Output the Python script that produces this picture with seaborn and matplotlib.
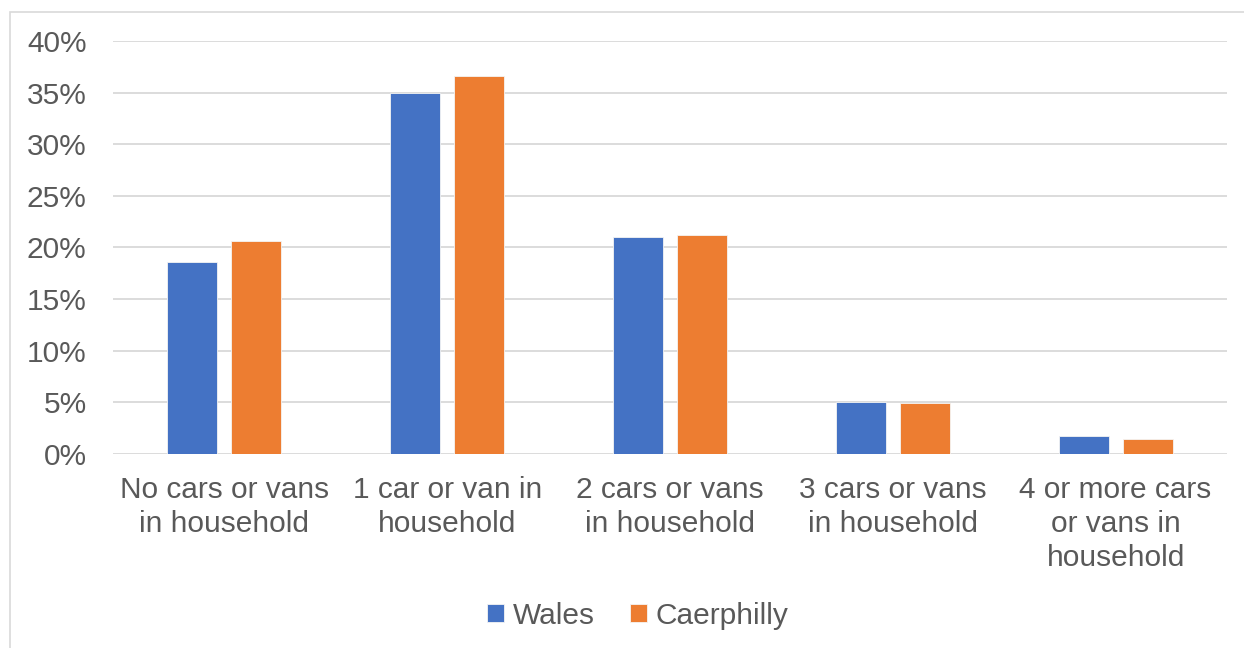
import numpy as np
import pandas as pd
import matplotlib
matplotlib.use("Agg")
import matplotlib.pyplot as plt
import seaborn as sns
from matplotlib.ticker import FuncFormatter
from matplotlib.patches import Rectangle

# Car / van availability by household
categories = [
    "No cars or vans\nin household",
    "1 car or van in\nhousehold",
    "2 cars or vans\nin household",
    "3 cars or vans\nin household",
    "4 or more cars\nor vans in\nhousehold",
]
wales = [18.6, 35.0, 21.0, 5.0, 1.7]
caerphilly = [20.6, 36.6, 21.2, 4.9, 1.5]
series = ["Wales", "Caerphilly"]
colours = ["#4472C4", "#ED7D31"]

df = pd.DataFrame({
    "Category": categories * 2,
    "Area": [series[0]] * len(categories) + [series[1]] * len(categories),
    "Value": wales + caerphilly,
})

sns.set_style("white")
plt.rcParams["font.family"] = ["Liberation Sans", "DejaVu Sans"]
text_grey = "#595959"
fsize = 21.5

fig = plt.figure(figsize=(12.44, 6.48), dpi=100)
ax = fig.add_axes([113 / 1244, 1 - 454 / 648, (1227 - 113) / 1244, (454 - 41) / 648])

sns.barplot(data=df, x="Category", y="Value", hue="Area", palette=colours,
            saturation=1, width=0.575, gap=0.22, ax=ax, legend=True,
            edgecolor="#f4f4f4", linewidth=0.6)

ax.set_ylim(0, 40)
ax.set_yticks(np.arange(0, 41, 5))
ax.yaxis.set_major_formatter(FuncFormatter(lambda v, _: f"{v:.0f}%"))
ax.yaxis.grid(True, color="#D9D9D9", linewidth=1.3)
ax.set_axisbelow(True)
for s in ax.spines.values():
    s.set_visible(False)
ax.set_xlabel("")
ax.set_ylabel("")
ax.tick_params(axis="y", length=0, pad=19, labelsize=fsize, labelcolor=text_grey)
ax.tick_params(axis="x", length=0, pad=16, labelsize=fsize, labelcolor=text_grey)
for lbl in ax.get_xticklabels():
    lbl.set_linespacing(1.26)

handles, labels = ax.get_legend_handles_labels()
ax.get_legend().remove()
fig.legend(handles, labels, loc="center", bbox_to_anchor=(638 / 1244, 1 - 616 / 648),
           ncol=2, frameon=False, fontsize=fsize, handlelength=0.55, handleheight=0.55,
           handletextpad=0.3, columnspacing=1.2, labelcolor=text_grey)

# chart area border
fig.patches.append(Rectangle((10 / 1244, -0.01), 1.02, 1 - 12 / 648 + 0.01,
                             transform=fig.transFigure, fill=False,
                             edgecolor="#D9D9D9", linewidth=1.2))

fig.savefig("out.png", dpi=100)
